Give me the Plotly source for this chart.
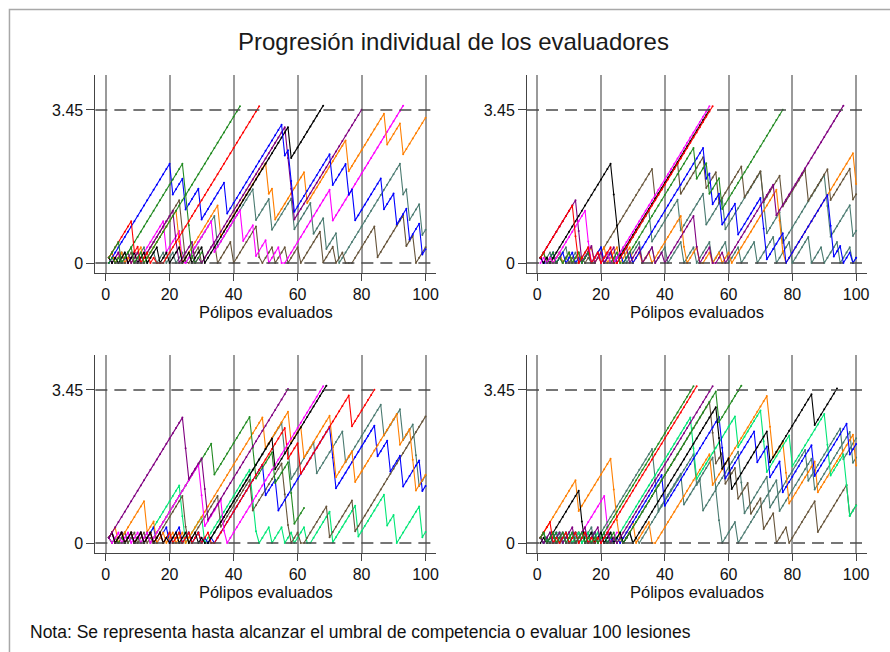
import plotly.graph_objects as go

# LC-CUSUM scores: correct call adds ln(0.90/0.80), incorrect call adds ln(0.10/0.20)
SCORE_OK = 0.1178
SCORE_ERR = -0.6931
THRESHOLD = 3.45
MAX_POLYPS = 100

GREEN = "#228B22"
RED = "#FF0000"
BLUE = "#0000FF"
BLACK = "#000000"
PURPLE = "#800080"
ORANGE = "#FF7F00"
MAGENTA = "#FF00FF"
SLATE = "#4A7A70"
BROWN = "#66543A"
SPRING = "#00E676"

# Each evaluator: colour, number of polyps evaluated, positions of incorrect calls
P1_COLORS = [SLATE, BROWN, MAGENTA, ORANGE, PURPLE, BLACK, BLUE, GREEN, RED, GREEN]
P1_N = [100, 100, 100, 100, 100, 100, 100, 30, 100, 100]
P1_ERRORS = [
    [2, 4, 7, 9, 13, 16, 19, 22, 25, 35, 47, 52, 59, 65, 69, 73, 93, 95, 99],
    [3, 6, 9, 11, 24, 25, 26, 30, 35, 40, 48, 49, 53, 57, 61, 68, 72, 75, 76, 77, 85, 94, 97],
    [2, 5, 7, 10, 19, 24, 25, 34, 43, 47, 51, 55, 56, 71],
    [3, 6, 8, 12, 23, 24, 36, 51, 53, 63, 76, 88, 93],
    [2, 5, 8, 11, 22, 23, 28, 30, 57, 58, 59],
    [2, 4, 7, 10, 13, 17, 20, 24, 27, 31, 58],
    [1, 21, 25, 30, 38, 56, 58, 59, 71, 76, 78, 87, 91, 95, 99],
    [1, 3, 5, 25, 26, 27, 28],
    [9, 11, 14, 16, 17, 18],
    [5, 9, 12],
]

P2_COLORS = [SLATE, SLATE, BROWN, ORANGE, BLUE, PURPLE, GREEN, BLACK, MAGENTA, RED]
P2_N = [100] * 10
P2_ERRORS = [
    [3, 6, 10, 13, 17, 21, 24, 28, 33, 37, 41, 46, 50, 55, 60, 64, 69, 75, 80, 86, 90, 95, 99],
    [2, 5, 8, 11, 14, 17, 20, 23, 25, 36, 45, 53, 59, 71, 72, 77, 91, 92, 99],
    [2, 4, 6, 8, 10, 12, 13, 15, 17, 18, 37, 45, 53, 57, 65, 71, 77, 85, 92, 99],
    [3, 5, 8, 11, 14, 18, 22, 26, 30, 33, 36, 46, 47, 51, 52, 55, 58, 61, 76, 77, 78, 100],
    [2, 3, 6, 9, 12, 14, 17, 21, 24, 27, 30, 53, 55, 58, 63, 71, 72, 78, 92, 93, 96, 99],
    [13, 14, 18, 21, 25, 29, 33, 37, 40, 50, 51, 55, 56, 59, 75],
    [3, 6, 8, 11, 14, 17, 20, 23, 26, 27, 50, 54, 58],
    [2, 4, 24, 25, 26],
    [1, 3, 5, 16, 17, 20, 23, 24],
    [12, 13, 17, 20, 24, 25],
]

P3_COLORS = [SPRING, BROWN, SLATE, BLUE, ORANGE, GREEN, RED, MAGENTA, BLACK, PURPLE]
P3_N = [100, 100, 100, 100, 100, 62, 100, 100, 100, 100]
P3_ERRORS = [
    [2, 4, 7, 9, 12, 24, 25, 31, 46, 47, 48, 52, 56, 59, 63, 64, 71, 79, 88, 91, 99],
    [2, 4, 7, 10, 13, 15, 25, 26, 36, 46, 56, 57, 58, 61, 62, 70, 78],
    [3, 6, 9, 12, 15, 18, 21, 24, 27, 30, 32, 56, 58, 66, 75, 87, 93, 97, 98],
    [3, 6, 9, 12, 16, 20, 24, 27, 30, 32, 34, 50, 54, 71, 72, 85, 89, 93, 99],
    [4, 13, 16, 19, 22, 25, 50, 58, 62, 71, 72, 78, 92, 96, 97],
    [2, 4, 6, 9, 11, 14, 34, 46, 47, 53, 58, 59],
    [3, 6, 9, 12, 15, 18, 21, 24, 27, 30, 33, 34, 57, 61, 77],
    [2, 5, 8, 11, 14, 30, 31, 37, 38],
    [3, 6, 9, 12, 15, 18, 20, 23, 26, 29, 31, 32, 53],
    [25, 26, 31, 32],
]

P4_COLORS = [MAGENTA, SLATE, SLATE, BROWN, ORANGE, SPRING, BLUE, BLACK, GREEN, PURPLE, RED, GREEN]
P4_N = [25] + [100] * 11
P4_ERRORS = [
    [3, 6, 9, 12, 22, 23],
    [2, 5, 8, 11, 14, 18, 37, 38, 46, 56, 64, 65, 73, 85, 96],
    [3, 6, 9, 12, 15, 18, 21, 24, 27, 30, 32, 50, 52, 57, 58, 63, 76, 87, 99],
    [3, 6, 8, 11, 14, 17, 20, 23, 25, 27, 55, 56, 59, 63, 67, 71, 75, 79, 88, 98],
    [13, 24, 25, 26, 31, 36, 37, 55, 73, 74, 78, 79, 88, 100],
    [3, 5, 8, 11, 14, 17, 20, 22, 24, 49, 50, 63, 71, 72, 80, 91, 92, 97, 98],
    [2, 4, 7, 10, 13, 16, 19, 22, 24, 26, 40, 58, 59, 69, 73, 77, 87, 98],
    [1, 3, 14, 15, 18, 21, 24, 27, 30, 57, 58, 61, 73, 87],
    [2, 4, 7, 10, 13, 16, 19, 22, 25, 27, 57],
    [2, 5, 8, 12, 16, 20, 23, 25],
    [5, 7, 10, 13, 16, 18, 20],
    [3, 6, 9, 12, 15, 17, 19],
]

X_TICKS = [0, 20, 40, 60, 80, 100]
Y_TICKS = [0, THRESHOLD]
Y_TICK_TEXT = ["0", "3.45"]
TITLE = "Progresión individual de los evaluadores"
X_TITLE = "Pólipos evaluados"
NOTE = "Nota: Se representa hasta alcanzar el umbral de competencia o evaluar 100 lesiones"


def cusum(n_polyps, errors):
    """CUSUM path, stopped at the competence threshold or after n_polyps."""
    wrong = set(errors)
    xs, ys, s = [], [], 0.0
    for i in range(1, min(n_polyps, MAX_POLYPS) + 1):
        s = max(0.0, s + (SCORE_ERR if i in wrong else SCORE_OK))
        xs.append(i)
        ys.append(s)
        if s >= THRESHOLD:
            break
    return xs, ys


W, H = 890, 652
FONT = "Liberation Sans, Arial, sans-serif"
INK = "#111111"

# Panel boxes in pixels: (left, right, top, bottom)
PANELS = [
    (95.7, 437.9, 75, 273),
    (528.8, 869.9, 75, 273),
    (95.7, 437.9, 355, 553),
    (528.8, 869.9, 355, 553),
]
X_RANGE = [-3.2, 103.4]
Y_RANGE = [-0.2255, 4.239]

fig = go.Figure()
shapes, annotations = [], []
axes = {}

series = [
    (P1_COLORS, P1_N, P1_ERRORS),
    (P2_COLORS, P2_N, P2_ERRORS),
    (P3_COLORS, P3_N, P3_ERRORS),
    (P4_COLORS, P4_N, P4_ERRORS),
]

for k, ((left, right, top, bottom), (cols, ns, errs)) in enumerate(zip(PANELS, series), start=1):
    suffix = "" if k == 1 else str(k)
    xref, yref = "x" + suffix, "y" + suffix
    axes["xaxis" + suffix] = dict(
        domain=[left / W, right / W], range=X_RANGE, anchor=yref,
        tickvals=X_TICKS, ticks="outside", ticklen=7, tickwidth=1, tickcolor="#444",
        showline=True, linecolor="#444", linewidth=1,
        showgrid=True, gridcolor="#9a9a9a", gridwidth=1.6, zeroline=False,
        tickfont=dict(size=16, color=INK, family=FONT),
        title=dict(text=X_TITLE, font=dict(size=16.5, color=INK, family=FONT), standoff=0),
        fixedrange=True,
    )
    axes["yaxis" + suffix] = dict(
        domain=[1 - bottom / H, 1 - top / H], range=Y_RANGE, anchor=xref,
        tickvals=Y_TICKS, ticktext=Y_TICK_TEXT, ticks="outside", ticklen=8, tickwidth=1,
        tickcolor="#444", showline=True, linecolor="#444", linewidth=1,
        showgrid=False, zeroline=False,
        tickfont=dict(size=16, color=INK, family=FONT), fixedrange=True,
    )
    # reference lines at 0 and at the competence threshold
    for yv in Y_TICKS:
        shapes.append(dict(
            type="line", xref="paper", yref=yref, x0=left / W, x1=right / W, y0=yv, y1=yv,
            line=dict(color="#4a4a4a", width=1.5, dash="12px,7px"),
        ))
    for c, n, e in zip(cols, ns, errs):
        xs, ys = cusum(n, e)
        fig.add_trace(go.Scatter(
            x=xs, y=ys, xaxis=xref, yaxis=yref, mode="lines+markers",
            line=dict(color=c, width=1.1), marker=dict(color=c, size=2),
            hoverinfo="skip",
        ))

annotations += [
    dict(text=TITLE, xref="paper", yref="paper", x=455 / W, y=1 - 42 / H,
         xanchor="center", yanchor="middle", showarrow=False,
         font=dict(size=24, color="#1a1a1a", family=FONT)),
    dict(text=NOTE, xref="paper", yref="paper", x=28 / W, y=1 - 632 / H,
         xanchor="left", yanchor="middle", showarrow=False,
         font=dict(size=17.5, color=INK, family=FONT)),
]
# outer frame of the graph region
shapes.append(dict(
    type="rect", xref="paper", yref="paper", x0=9.5 / W, x1=1.2, y0=-0.2, y1=1 - 9.5 / H,
    line=dict(color="#a8a8a8", width=1.5),
))

fig.update_layout(
    width=W, height=H,
    margin=dict(l=0, r=0, t=0, b=0),
    paper_bgcolor="white", plot_bgcolor="white",
    showlegend=False,
    font=dict(family=FONT, color=INK, size=15),
    shapes=shapes, annotations=annotations,
    **axes,
)
fig.write_html("out.html")
